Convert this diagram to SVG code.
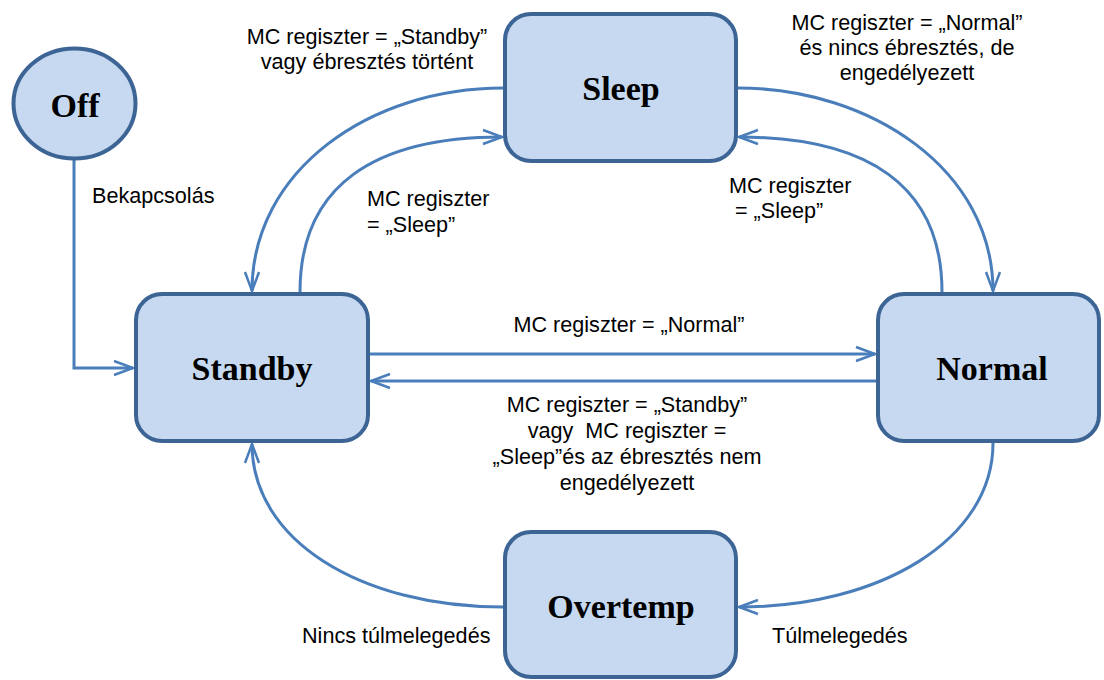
<svg xmlns="http://www.w3.org/2000/svg" width="1104" height="680" viewBox="0 0 1104 680">
  <style>
    .state { fill: #c6d9f0; stroke: #3c6494; stroke-width: 4; }
    .name { font-family: "Liberation Serif", "Times New Roman", serif; font-weight: bold; font-size: 34px; fill: #000; text-anchor: middle; }
    .edge { fill: none; stroke: #4a7ebb; stroke-width: 3; }
    .lbl { font-family: "Liberation Sans", Arial, sans-serif; font-size: 21.6px; fill: #000; }
    .mid { text-anchor: middle; }
  </style>
  <defs>
    <marker id="open" markerUnits="userSpaceOnUse" markerWidth="24" markerHeight="18" refX="20" refY="9" orient="auto">
      <path d="M1,2 L20,9 L1,16" fill="none" stroke="#4a7ebb" stroke-width="2.5"/>
    </marker>
  </defs>

  <!-- transitions -->
  <g id="connectors">
    <path class="edge" d="M74,160 L74,368 L133,368" marker-end="url(#open)"/>
    <path class="edge" d="M503,88 C370,88 252,170 252,291" marker-end="url(#open)"/>
    <path class="edge" d="M300,292 C300,185 375,137 502,137" marker-end="url(#open)"/>
    <path class="edge" d="M738,88 C871,88 993,170 993,291" marker-end="url(#open)"/>
    <path class="edge" d="M942,292 C942,185 867,137 739,137" marker-end="url(#open)"/>
    <path class="edge" d="M370,354 L875,354" marker-end="url(#open)"/>
    <path class="edge" d="M876,381 L371,381" marker-end="url(#open)"/>
    <path class="edge" d="M993,443 C993,540 880,607 739,607" marker-end="url(#open)"/>
    <path class="edge" d="M503,607 C360,607 252,540 252,444" marker-end="url(#open)"/>
  </g>

  <g id="off">
    <ellipse class="state" cx="74.5" cy="103.5" rx="61" ry="55"/>
    <text class="name" x="75" y="117">Off</text>
  </g>
  <g id="sleep">
    <rect class="state" x="505" y="14" width="231" height="147" rx="26"/>
    <text class="name" x="621" y="100">Sleep</text>
  </g>
  <g id="standby">
    <rect class="state" x="136" y="294" width="232" height="147" rx="26"/>
    <text class="name" x="252" y="380">Standby</text>
  </g>
  <g id="normal">
    <rect class="state" x="878" y="294" width="221" height="147" rx="26"/>
    <text class="name" x="992" y="380">Normal</text>
  </g>
  <g id="overtemp">
    <rect class="state" x="505" y="532" width="231" height="145" rx="26"/>
    <text class="name" x="621" y="618">Overtemp</text>
  </g>

  <!-- transition labels -->
  <g id="labels">
    <text class="lbl" x="92" y="203">Bekapcsolás</text>
    <text class="lbl mid" x="367" y="44">MC regiszter = „Standby”</text>
    <text class="lbl mid" x="367" y="69">vagy ébresztés történt</text>
    <text class="lbl mid" x="907" y="30">MC regiszter = „Normal”</text>
    <text class="lbl mid" x="907" y="55">és nincs ébresztés, de</text>
    <text class="lbl mid" x="907" y="80">engedélyezett</text>
    <text class="lbl" x="367" y="206">MC regiszter</text>
    <text class="lbl" x="367" y="232">= „Sleep”</text>
    <text class="lbl" x="729" y="193">MC regiszter</text>
    <text class="lbl" x="735" y="218">= „Sleep”</text>
    <text class="lbl mid" x="629" y="332">MC regiszter = „Normal”</text>
    <text class="lbl mid" x="627" y="412">MC regiszter = „Standby”</text>
    <text class="lbl mid" x="627" y="438" xml:space="preserve">vagy  MC regiszter =</text>
    <text class="lbl mid" x="627" y="464">„Sleep”és az ébresztés nem</text>
    <text class="lbl mid" x="627" y="490">engedélyezett</text>
    <text class="lbl" x="302" y="643">Nincs túlmelegedés</text>
    <text class="lbl" x="772" y="643">Túlmelegedés</text>
  </g>
</svg>
